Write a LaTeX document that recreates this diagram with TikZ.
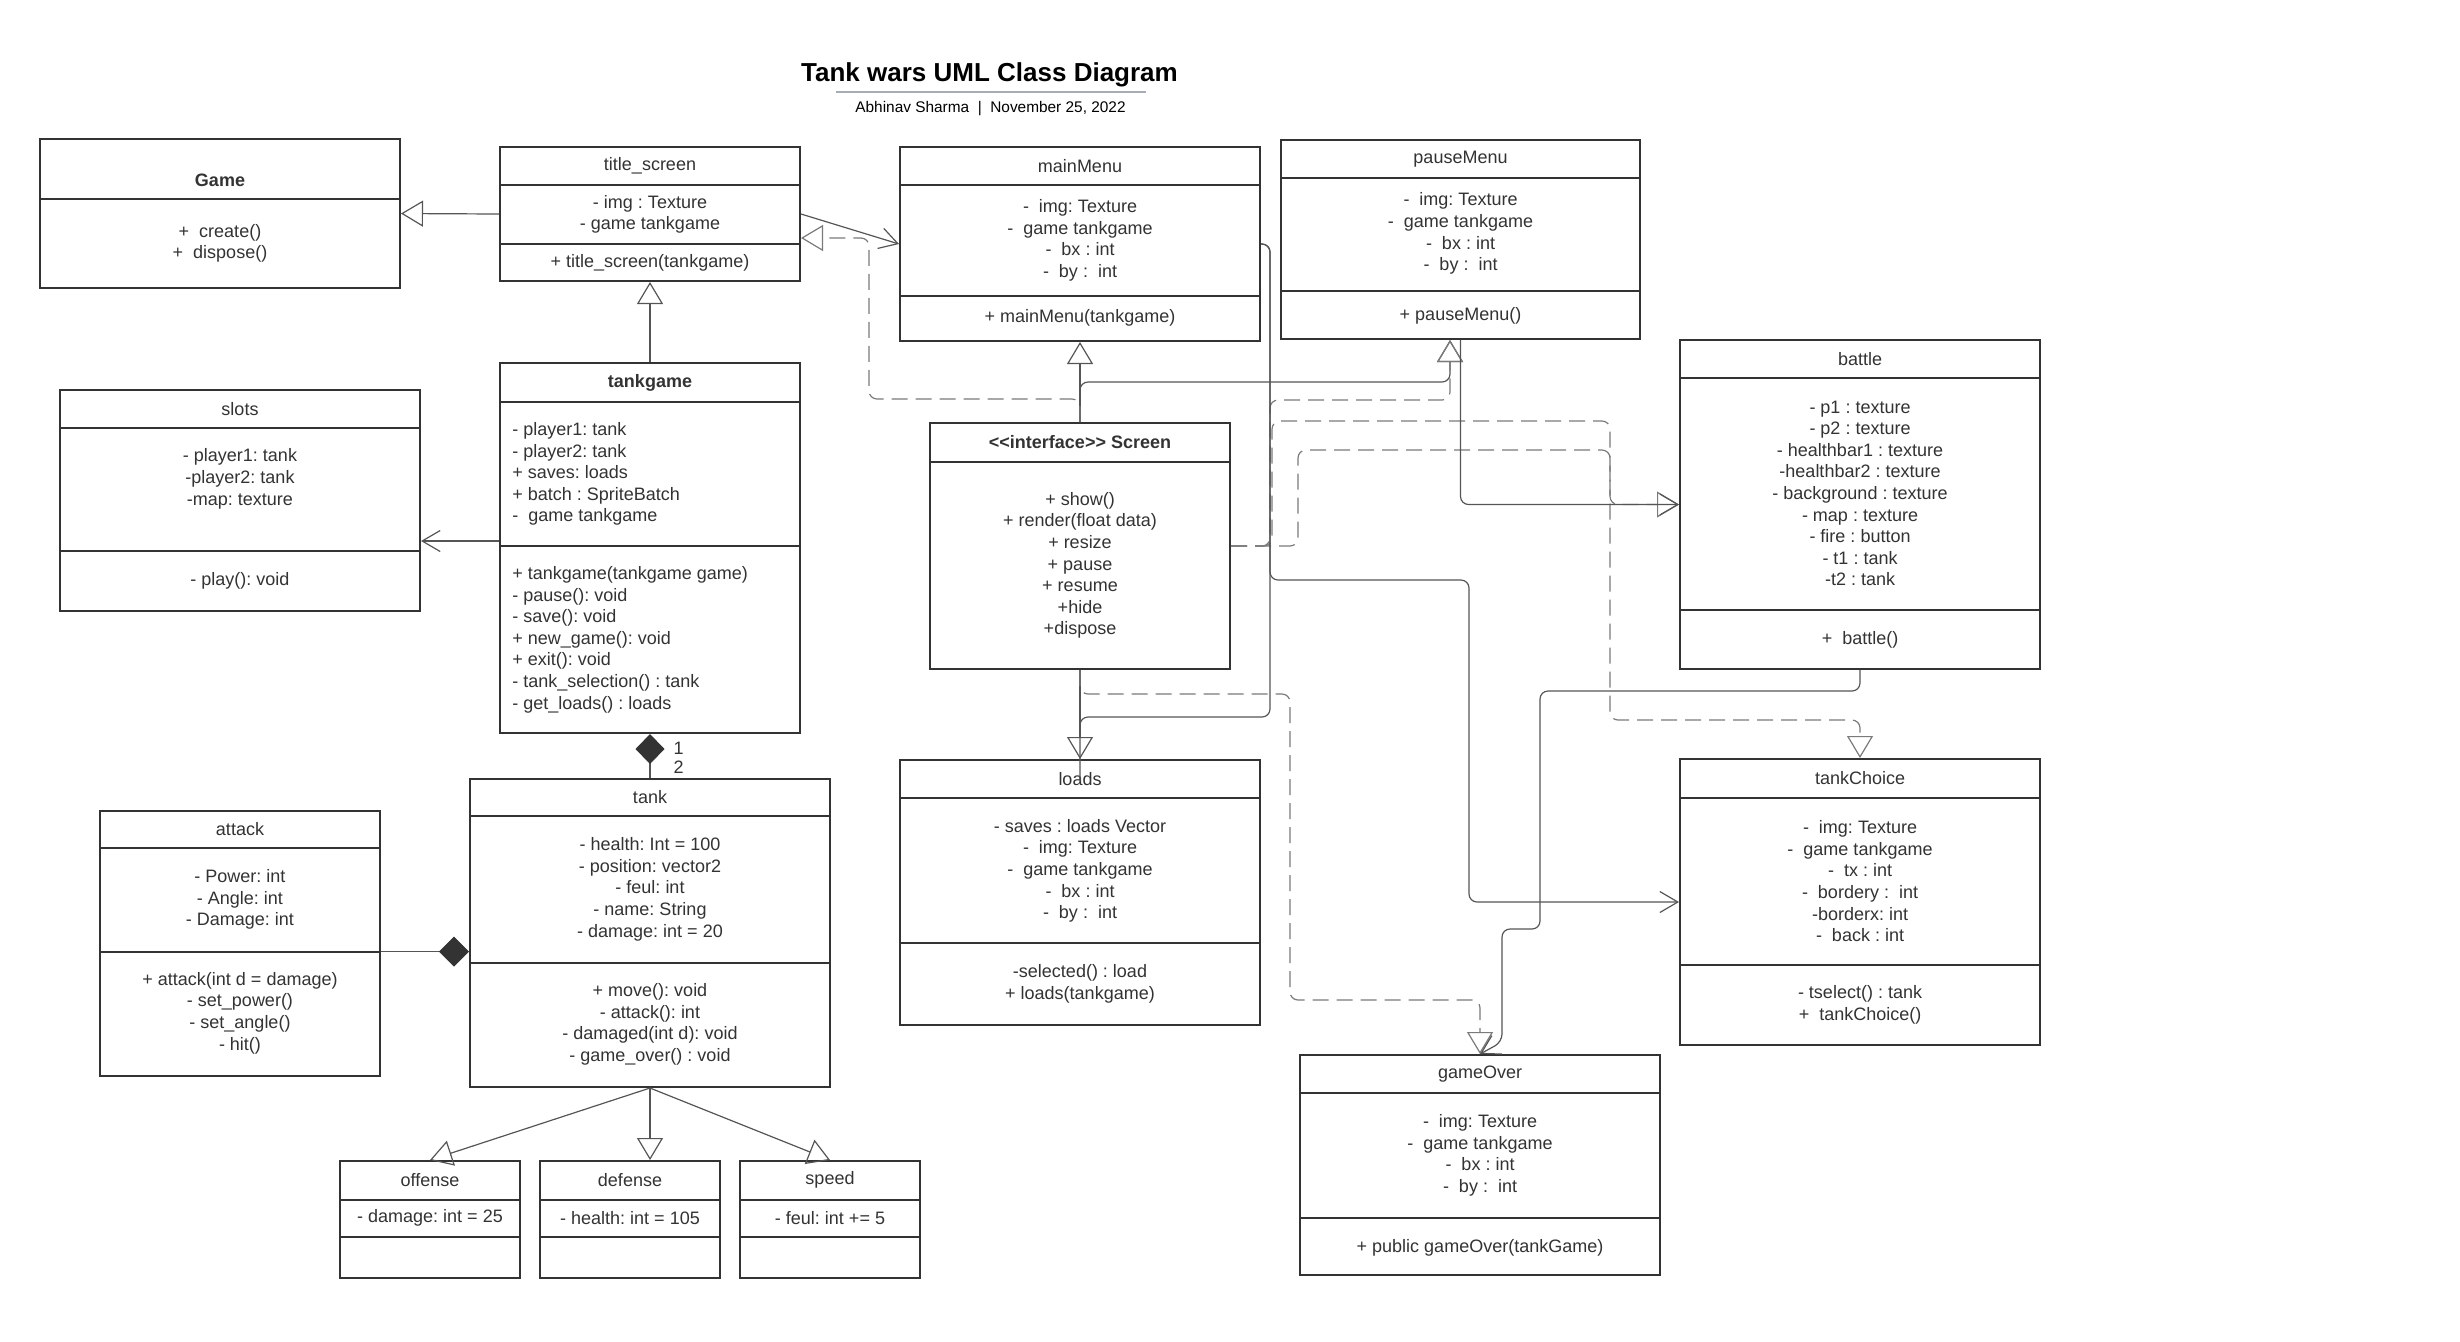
\documentclass[tikz,border=0pt]{standalone}
\usepackage{fontspec}
\setmainfont{Liberation Sans}
\frenchspacing
\usepackage{xcolor}
\definecolor{umlLine}{HTML}{333333}
\definecolor{umlText}{HTML}{333333}
\definecolor{umlConn}{HTML}{555555}
\definecolor{umlDash}{HTML}{7A7A7A}
\definecolor{umlRule}{HTML}{A8ACB4}
\usepackage{tikz}
\usetikzlibrary{arrows.meta,positioning}
\tikzset{
    classbox/.style={
        draw=umlLine,
        fill=white,
        rectangle,
        line width=1pt,
        inner sep=0pt
    },
    divider/.style={
        draw=umlLine,
        line width=1pt
    },
    member/.style={
        font=\fontsize{9}{10.8}\selectfont,
        text=umlText,
        align=center,
        inner sep=0pt
    },
    memberleft/.style={
        member,
        align=left,
        anchor=west
    },
    classname/.style={
        member,
        font=\fontsize{9}{10.8}\selectfont\bfseries
    },
    heading/.style={
        font=\fontsize{13}{15}\selectfont\bfseries,
        text=black,
        inner sep=0pt
    },
    byline/.style={
        font=\fontsize{7.7}{9}\selectfont,
        text=black,
        inner sep=0pt
    },
    rule/.style={
        draw=umlRule,
        line width=1pt
    },
    gen/.style={
        -{Triangle[open,length=11pt,width=13pt]},
        line width=0.6pt,
        draw=umlConn,
        rounded corners=4pt
    },
    realize/.style={
        gen,
        draw=umlDash,
        dash pattern=on 8pt off 4pt
    },
    assoc/.style={
        -{Straight Barb[length=9pt,width=10.5pt]},
        line width=0.6pt,
        draw=umlConn,
        rounded corners=4pt
    },
    link/.style={
        line width=0.6pt,
        draw=umlConn,
        rounded corners=4pt
    },
    compose/.style={
        {Diamond[length=15pt,width=14.5pt,color=umlLine]}-,
        line width=0.6pt,
        draw=umlConn
    },
    composeend/.style={
        -{Diamond[length=15pt,width=15pt,color=umlLine]},
        line width=0.6pt,
        draw=umlConn
    }
}

\begin{document}
\begin{tikzpicture}[x=1pt,y=-1pt]
    \useasboundingbox (0,0) rectangle (1230,670.5);

    % Title
    \node[heading] (title) at (494.75,37.2) {Tank wars UML Class Diagram};
    \draw[rule] (418,45.9) -- (573,45.9);
    \node[byline] (author) at (495.25,54.3) {Abhinav Sharma~ |~ November 25, 2022};

    % Game
    \node[classbox, minimum width=180pt, minimum height=74.5pt] (game) at (110,106.75) {};
    \draw[divider] (game.west |- 0,99.5) -- (game.east |- 0,99.5);
    \node[classname] (game-name) at (110,90) {Game};
    \node[member] (game-ops) at (110,121.75) {+~ create()\\+~ dispose()};

    % title_screen
    \node[classbox, minimum width=150pt, minimum height=67pt] (titleScreen) at (325,107) {};
    \draw[divider] (titleScreen.west |- 0,92.5) -- (titleScreen.east |- 0,92.5);
    \draw[divider] (titleScreen.west |- 0,122) -- (titleScreen.east |- 0,122);
    \node[member] (titleScreen-name) at (325,83) {title\_screen};
    \node[member] (titleScreen-attr) at (325,107.25) {- img : Texture\\- game tankgame};
    \node[member] (titleScreen-ops) at (325,131.5) {+ title\_screen(tankgame)};

    % mainMenu
    \node[classbox, minimum width=180pt, minimum height=97pt] (mainMenu) at (540,122) {};
    \draw[divider] (mainMenu.west |- 0,92.5) -- (mainMenu.east |- 0,92.5);
    \draw[divider] (mainMenu.west |- 0,148) -- (mainMenu.east |- 0,148);
    \node[member] (mainMenu-name) at (540,83) {mainMenu};
    \node[member] (mainMenu-attr) at (540,120.25) {-~ img: Texture\\-~ game tankgame\\-~ bx : int\\-~ by :~ int};
    \node[member] (mainMenu-ops) at (540,159) {+ mainMenu(tankgame)};

    % pauseMenu
    \node[classbox, minimum width=179.5pt, minimum height=99.5pt] (pauseMenu) at (730.25,119.75) {};
    \draw[divider] (pauseMenu.west |- 0,89) -- (pauseMenu.east |- 0,89);
    \draw[divider] (pauseMenu.west |- 0,145.5) -- (pauseMenu.east |- 0,145.5);
    \node[member] (pauseMenu-name) at (730.25,79.5) {pauseMenu};
    \node[member] (pauseMenu-attr) at (730.25,116.85) {-~ img: Texture\\-~ game tankgame\\-~ bx : int\\-~ by :~ int};
    \node[member] (pauseMenu-ops) at (730.25,157.7) {+ pauseMenu()};

    % battle
    \node[classbox, minimum width=180pt, minimum height=164.5pt] (battle) at (930,252.25) {};
    \draw[divider] (battle.west |- 0,189) -- (battle.east |- 0,189);
    \draw[divider] (battle.west |- 0,305) -- (battle.east |- 0,305);
    \node[member] (battle-name) at (930,179.5) {battle};
    \node[member] (battle-attr) at (930,246.65) {- p1 : texture\\- p2 : texture\\- healthbar1 : texture\\-healthbar2 : texture\\- background : texture\\- map : texture\\- fire : button\\- t1 : tank\\-t2 : tank};
    \node[member] (battle-ops) at (930,319.7) {+~ battle()};

    % slots
    \node[classbox, minimum width=180pt, minimum height=110.5pt] (slots) at (120,250.25) {};
    \draw[divider] (slots.west |- 0,214) -- (slots.east |- 0,214);
    \draw[divider] (slots.west |- 0,275.5) -- (slots.east |- 0,275.5);
    \node[member] (slots-name) at (120,204.5) {slots};
    \node[member] (slots-attr) at (120,239.4) {- player1: tank\\-player2: tank\\-map: texture};
    \node[member] (slots-ops) at (120,290.5) {- play(): void};

    % tankgame
    \node[classbox, minimum width=150pt, minimum height=185pt] (tankgame) at (325,274) {};
    \draw[divider] (tankgame.west |- 0,201) -- (tankgame.east |- 0,201);
    \draw[divider] (tankgame.west |- 0,273) -- (tankgame.east |- 0,273);
    \node[classname] (tankgame-name) at (325,191.25) {tankgame};
    \node[memberleft] (tankgame-attr) at (256,237) {- player1: tank\\- player2: tank\\+ saves: loads\\+ batch : SpriteBatch\\-~ game tankgame};
    \node[memberleft] (tankgame-ops) at (256,319.8) {+ tankgame(tankgame game)\\- pause(): void\\- save(): void\\+ new\_game(): void\\+ exit(): void\\- tank\_selection() : tank\\- get\_loads() : loads};

    % Screen interface
    \node[classbox, minimum width=150pt, minimum height=123pt] (screen) at (540,273) {};
    \draw[divider] (screen.west |- 0,231) -- (screen.east |- 0,231);
    \node[classname] (screen-name) at (540,221.25) {<\kern0pt<interface>\kern0pt> Screen};
    \node[member] (screen-ops) at (540,282.75) {+ show()\\+ render(float data)\\+ resize\\+ pause\\+ resume\\+hide\\+dispose};

    % loads
    \node[classbox, minimum width=180pt, minimum height=132.5pt] (loads) at (540,446.25) {};
    \draw[divider] (loads.west |- 0,399) -- (loads.east |- 0,399);
    \draw[divider] (loads.west |- 0,471.5) -- (loads.east |- 0,471.5);
    \node[member] (loads-name) at (540,389.5) {loads};
    \node[member] (loads-attr) at (540,435.4) {- saves : loads Vector\\-~ img: Texture\\-~ game tankgame\\-~ bx : int\\-~ by :~ int};
    \node[member] (loads-ops) at (540,492) {-selected() : load\\+ loads(tankgame)};

    % tankChoice
    \node[classbox, minimum width=180pt, minimum height=143pt] (tankChoice) at (930,451) {};
    \draw[divider] (tankChoice.west |- 0,399) -- (tankChoice.east |- 0,399);
    \draw[divider] (tankChoice.west |- 0,482.5) -- (tankChoice.east |- 0,482.5);
    \node[member] (tankChoice-name) at (930,389.25) {tankChoice};
    \node[member] (tankChoice-attr) at (930,440.6) {-~ img: Texture\\-~ game tankgame\\-~ tx : int\\-~ bordery :~ int\\-borderx: int\\-~ back : int};
    \node[member] (tankChoice-ops) at (930,502.45) {- tselect() : tank\\+~ tankChoice()};

    % gameOver
    \node[classbox, minimum width=180pt, minimum height=110pt] (gameOver) at (740,582.5) {};
    \draw[divider] (gameOver.west |- 0,546.5) -- (gameOver.east |- 0,546.5);
    \draw[divider] (gameOver.west |- 0,609) -- (gameOver.east |- 0,609);
    \node[member] (gameOver-name) at (740,537) {gameOver};
    \node[member] (gameOver-attr) at (740,577.75) {-~ img: Texture\\-~ game tankgame\\-~ bx : int\\-~ by :~ int};
    \node[member] (gameOver-ops) at (740,624) {+ public gameOver(tankGame)};

    % attack
    \node[classbox, minimum width=140pt, minimum height=132.5pt] (attack) at (120,471.75) {};
    \draw[divider] (attack.west |- 0,424) -- (attack.east |- 0,424);
    \draw[divider] (attack.west |- 0,475.75) -- (attack.east |- 0,475.75);
    \node[member] (attack-name) at (120,414.75) {attack};
    \node[member] (attack-attr) at (120,449.75) {- Power: int\\- Angle: int\\- Damage: int};
    \node[member] (attack-ops) at (120,506.5) {+ attack(int d = damage)\\- set\_power()\\- set\_angle()\\- hit()};

    % tank
    \node[classbox, minimum width=180pt, minimum height=154pt] (tank) at (325,466.5) {};
    \draw[divider] (tank.west |- 0,408) -- (tank.east |- 0,408);
    \draw[divider] (tank.west |- 0,481.5) -- (tank.east |- 0,481.5);
    \node[member] (tank-name) at (325,398.75) {tank};
    \node[member] (tank-attr) at (325,444.65) {- health: Int = 100\\- position: vector2\\- feul: int\\- name: String\\- damage: int = 20};
    \node[member] (tank-ops) at (325,512.15) {+ move(): void\\- attack(): int\\- damaged(int d): void\\- game\_over() : void};

    % tank kinds
    \node[classbox, minimum width=90pt, minimum height=58.5pt] (offense) at (215,609.75) {};
    \node[classbox, minimum width=90pt, minimum height=58.5pt] (defense) at (315,609.75) {};
    \node[classbox, minimum width=90pt, minimum height=58.5pt] (speed) at (415,609.75) {};
    \foreach \kind in {offense,defense,speed} {
        \draw[divider] (\kind.west |- 0,599.75) -- (\kind.east |- 0,599.75);
        \draw[divider] (\kind.west |- 0,618.25) -- (\kind.east |- 0,618.25);
    }
    \node[member] (offense-name) at (215,590.1) {offense};
    \node[member] (offense-attr) at (215,609) {- damage: int = 25};
    \node[member] (defense-name) at (315,590.1) {defense};
    \node[member] (defense-attr) at (315,609) {- health: int = 105};
    \node[member] (speed-name) at (415,590.1) {speed};
    \node[member] (speed-attr) at (415,609) {- feul: int += 5};

    % Inheritance
    \draw[gen] (titleScreen.west) -- (game.east);
    \draw[gen] (tankgame.north) -- (titleScreen.south);
    \draw[gen] (screen.north) -- (mainMenu.south);
    \draw[gen] (screen.north) -- (540,191) -- (725,191) -- ([xshift=-5.25pt]pauseMenu.south);
    \draw[gen] (screen.south) -- (loads.north);
    \draw[gen] (tank.south) -- (offense.north);
    \draw[gen] (tank.south) -- (tank.south |- defense.north);
    \draw[gen] (tank.south) -- (speed.north);

    % Realizations of Screen
    \draw[realize] (screen.north) -- (540,199.5) -- (434.5,199.5) -- (434.5,119) -- ([yshift=-12pt]titleScreen.east);
    \draw[realize] (screen.east) -- (635,273) -- (635,200) -- (725,200) -- ([xshift=-5.25pt]pauseMenu.south);
    \draw[realize] (screen.east) -- (636,273) -- (636,210.5) -- (805,210.5) -- (805,360) -- (930,360) -- (tankChoice.north);
    \draw[realize] (screen.east) -- (649,273) -- (649,225) -- (805,225) -- (805,252.25) -- (battle.west);
    \draw[realize] (screen.south) -- (540,347) -- (645,347) -- (645,500) -- (740,500) -- (gameOver.north);

    % Associations
    \draw[assoc] (titleScreen.east) -- (mainMenu.west);
    \draw[assoc] ([yshift=3.5pt]tankgame.west) -- ([yshift=3.5pt]tankgame.west -| slots.east);
    \draw[assoc] (mainMenu.east) -- (635,122) -- (635,290) -- (734.5,290) -- (734.5,451) -- (tankChoice.west);
    \draw[link] (mainMenu.east) -- (635,122) -- (635,358.5) -- (540,358.5) -- ([yshift=-11pt]loads.north);
    \draw[assoc] (pauseMenu.south) |- (battle.west);
    \draw[assoc] (battle.south) -- (930,345.5) -- (770,345.5) -- (770,464.5) -- (751,464.5) -- (751,521) -- (gameOver.north);

    % Compositions
    \draw[compose] (tankgame.south) -- (tank.north);
    \node[member] (one) at (339.25,374) {1};
    \node[member] (two) at (339.25,383.5) {2};
    \draw[composeend] ([yshift=-4pt]attack.east) -- ([yshift=-4pt]attack.east -| tank.west);
\end{tikzpicture}
\end{document}
